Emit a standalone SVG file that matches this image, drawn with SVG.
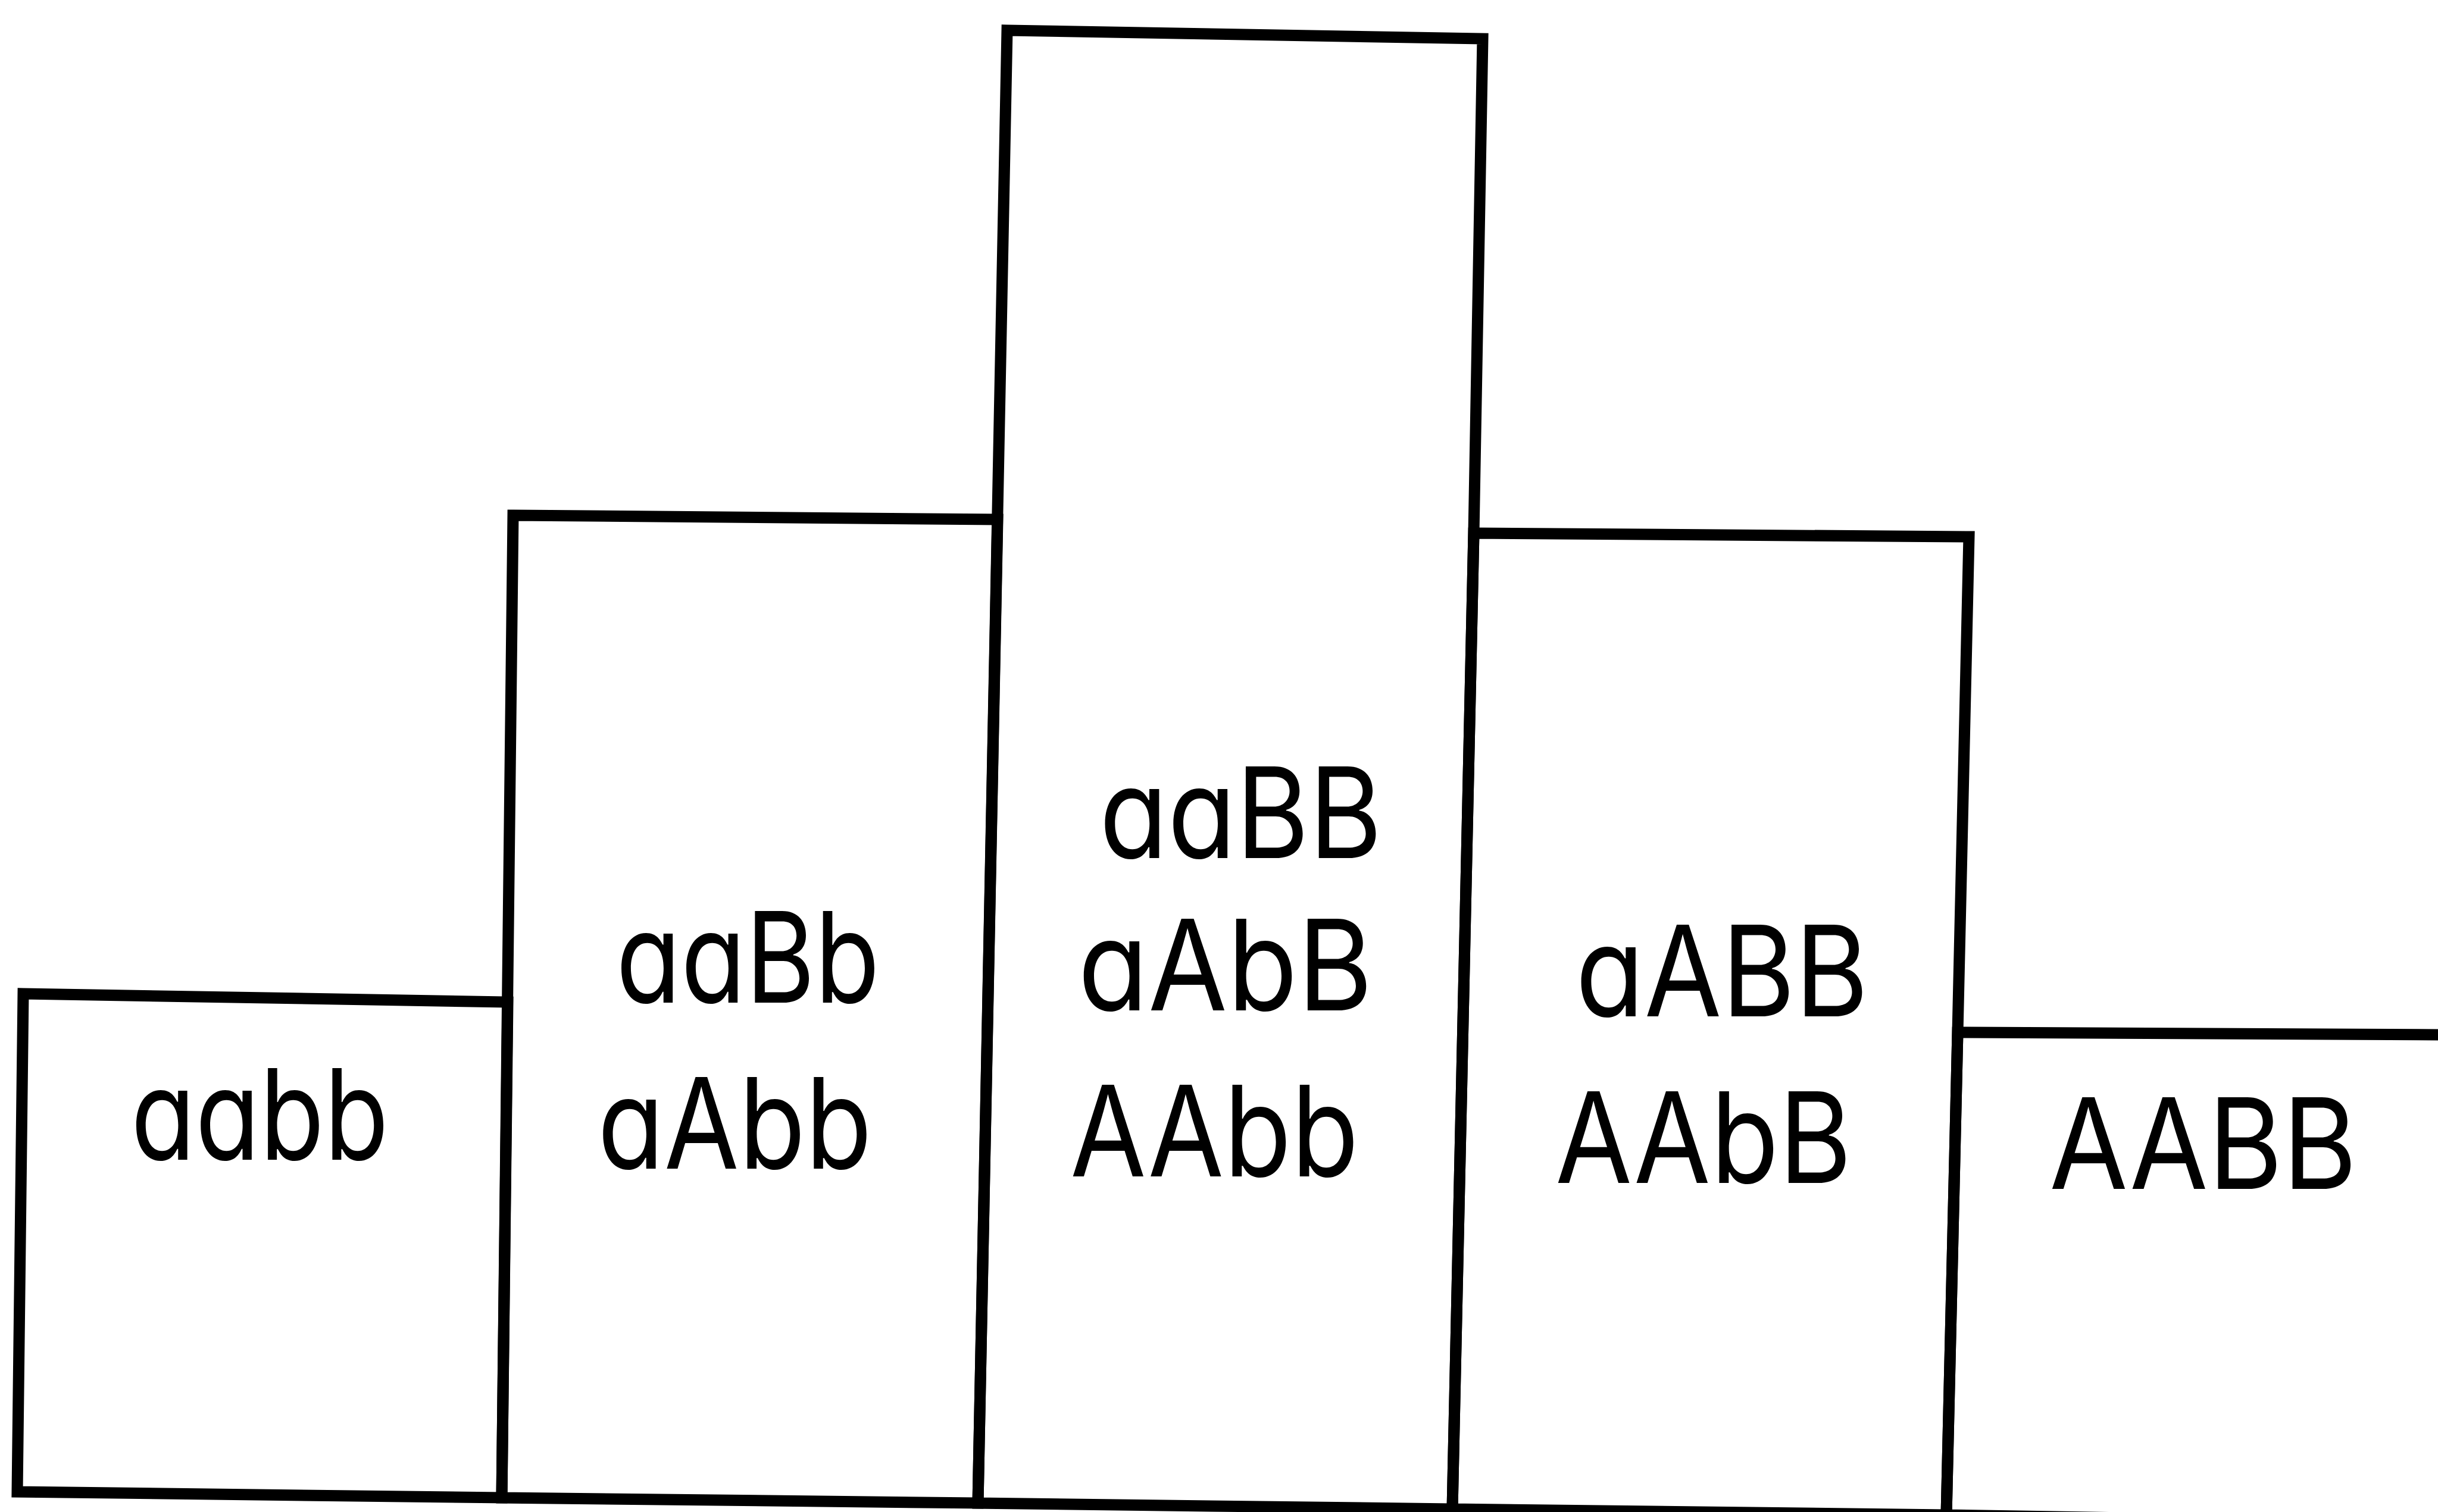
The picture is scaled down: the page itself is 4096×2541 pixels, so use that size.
<svg xmlns="http://www.w3.org/2000/svg" width="4096" height="2541" viewBox="0 0 4096 2541">
<style>
.bar{fill:none;stroke:#000;stroke-width:19;stroke-linejoin:miter}
.lbl{font-family:Inter,"Liberation Sans",sans-serif;font-size:212px;font-weight:400;font-feature-settings:"cv11" 1;fill:#000}
</style>
<rect x="0" y="0" width="4096" height="2541" fill="#fff"/>
<g id="bar-aabb">
<path class="bar" d="M39,1670 L853,1684 L843,2517 L29,2507 Z"/>
<text class="lbl" x="220" y="1949" textLength="433" lengthAdjust="spacingAndGlyphs">aabb</text>
</g>
<g id="bar-one-dominant">
<path class="bar" d="M862,866 L1676,873 L1643,2526 L843,2517 Z"/>
<text class="lbl" x="1035" y="1685" textLength="443" lengthAdjust="spacingAndGlyphs">aaBb</text>
<text class="lbl" x="1004" y="1964" textLength="461" lengthAdjust="spacingAndGlyphs">aAbb</text>
</g>
<g id="bar-two-dominant">
<path class="bar" d="M1692,51 L2491,65 L2476,896 L2440,2536 L1643,2526 Z"/>
<text class="lbl" x="1847" y="1442" textLength="475" lengthAdjust="spacingAndGlyphs">aaBB</text>
<text class="lbl" x="1811" y="1698" textLength="495" lengthAdjust="spacingAndGlyphs">aAbB</text>
<text class="lbl" x="1798" y="1977" textLength="485" lengthAdjust="spacingAndGlyphs">AAbb</text>
</g>
<g id="bar-three-dominant">
<path class="bar" d="M2476,896 L3308,902 L3289,1735 L3270,2546 L2440,2536 Z"/>
<text class="lbl" x="2647" y="1708" textLength="492" lengthAdjust="spacingAndGlyphs">aABB</text>
<text class="lbl" x="2613" y="1988" textLength="498" lengthAdjust="spacingAndGlyphs">AAbB</text>
</g>
<g id="bar-AABB">
<path class="bar" d="M3289,1735 L4120,1739 L4120,2560 L3270,2546 Z"/>
<text class="lbl" x="3443" y="1998" textLength="517" lengthAdjust="spacingAndGlyphs">AABB</text>
</g>
<g id="connectors"/>
</svg>
